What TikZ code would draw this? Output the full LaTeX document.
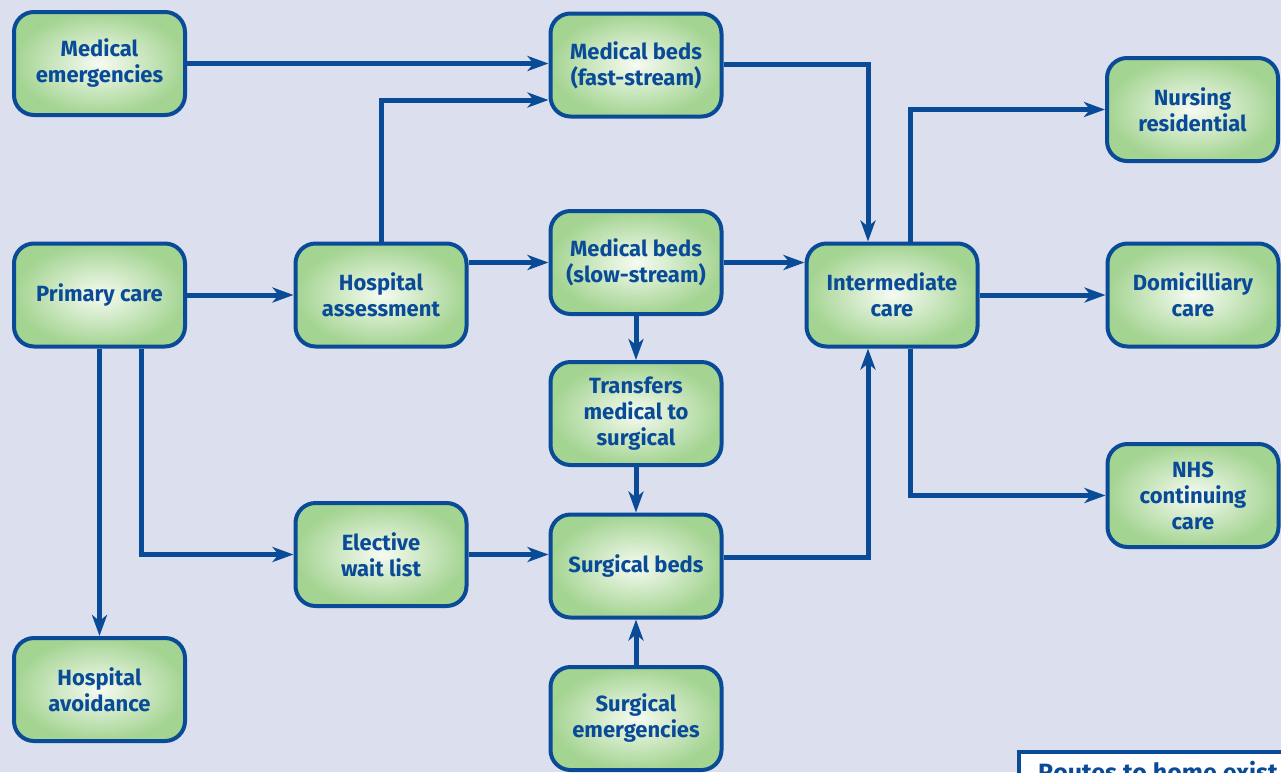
\documentclass[tikz,border=0pt]{standalone}
\usepackage{fontspec}
\setmainfont{Fira Sans}
\usetikzlibrary{arrows.meta,calc}
\definecolor{nhsblue}{RGB}{10,75,152}
\definecolor{bgcol}{RGB}{220,223,238}
\definecolor{gout}{RGB}{164,212,146}
\definecolor{gin}{RGB}{246,251,242}
\tikzset{
  box/.style={draw=nhsblue, line width=4pt, rounded corners=20pt,
    inner color=gin, outer color=gout,
    minimum width=171pt, minimum height=103pt,
    align=center, text=nhsblue, font=\fontsize{22}{26}\selectfont\bfseries,
    inner sep=0pt},
  arr/.style={draw=nhsblue, line width=5pt, line join=miter,
    -{Stealth[length=21pt,width=15pt,inset=6pt]}},
}
\begin{document}
\begin{tikzpicture}[x=1pt,y=-1pt]
\fill[bgcol] (0,0) rectangle (1281,772);
\useasboundingbox (0,0) rectangle (1281,772);

\node[box] (me)   at (99.5,63.5)   {Medical\\emergencies};
\node[box] (fast) at (636,65)      {Medical beds\\(fast-stream)};
\node[box] (pc)   at (99.5,295)    {Primary care};
\node[box] (ha)   at (381,295)     {Hospital\\assessment};
\node[box] (slow) at (636,262.5)   {Medical beds\\(slow-stream)};
\node[box] (ic)   at (892,295)     {Intermediate\\care};
\node[box] (nr)   at (1192.5,109.5){Nursing\\residential};
\node[box] (dc)   at (1193,295)    {Domicilliary\\care};
\node[box] (nhs)  at (1193,495.5)  {NHS\\continuing\\care};
\node[box] (tr)   at (636,413.5)   {Transfers\\medical to\\surgical};
\node[box] (el)   at (381,554.5)   {Elective\\wait list};
\node[box] (sb)   at (636,566)     {Surgical beds};
\node[box] (av)   at (99.5,689.5)  {Hospital\\avoidance};
\node[box] (se)   at (636,718.5)   {Surgical\\emergencies};

\node[draw=nhsblue, line width=4pt, fill=white, anchor=north west,
      minimum width=300pt, minimum height=60pt, inner sep=0pt, outer sep=0pt] (rt) at (1019,752) {};
\node[anchor=base west, text=nhsblue, font=\fontsize{25}{30}\selectfont\bfseries,
      inner sep=0pt] (rtt) at ([xshift=19pt,yshift=-29pt]rt.north west) {Routes to home exist};

\draw[arr] (me.east) -- (me.east -| fast.west);
\draw[arr] (ha.north) |- ([yshift=-35pt]fast.west);
\draw[arr] ([yshift=1pt]fast.east) -| ([xshift=-24pt]ic.north);
\draw[arr] (pc.east) -- (ha.west);
\draw[arr] (slow.west -| ha.east) -- (slow.west);
\draw[arr] (slow.east) -- (slow.east -| ic.west);
\draw[arr] (slow.south) -- (tr.north);
\draw[arr] (tr.south) -- (sb.north);
\draw[arr] (el.east) -- (el.east -| sb.west);
\draw[arr] ([yshift=9pt]sb.east) -| ([xshift=-24pt]ic.south);
\draw[arr] (se.north) -- (sb.south);
\draw[arr] (pc.south) -- (av.north);
\draw[arr] ([xshift=42pt]pc.south) |- (el.west);
\draw[arr] ([xshift=18pt]ic.north) |- (nr.west);
\draw[arr] (ic.east) -- (dc.west);
\draw[arr] ([xshift=18pt]ic.south) |- (nhs.west);
\end{tikzpicture}
\end{document}
